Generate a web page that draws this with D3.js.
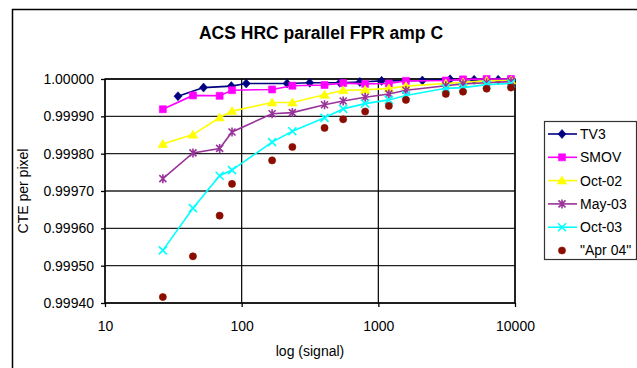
<!DOCTYPE html>
<html>
<head>
<meta charset="utf-8">
<script src="https://cdn.jsdelivr.net/npm/d3@7"></script>
<style>
  body { margin: 0; background: #fff; }
  svg { display: block; font-family: "Liberation Sans", Arial, sans-serif; }
</style>
</head>
<body>
<svg id="chart"></svg>
<script>
// data
const signal = [26.5, 44, 69, 85, 167, 235, 404, 553, 801, 1194, 1592, 3117, 4165, 6199, 9350];
const tv3Signal = [34.2, 52.6, 84, 108, 215, 315, 523, 733, 1057, 2100, 3350, 5020, 7530, 9220];
const tv3 = [0.999954, 0.999977, 0.999981, 0.999988, 0.999988, 0.99999, 0.99999, 0.999992, 0.999995, 0.999996, 0.999999, 0.999998, 0.999998, 0.999998];
const smov = [0.999919, 0.999956, 0.999955, 0.99997, 0.999972, 0.999982, 0.999984, 0.999989, 0.999987, 0.999988, 0.999995, 0.999996, 0.999999, 1.0, 1.0];
const oct02 = [0.999826, 0.999851, 0.999897, 0.999914, 0.999937, 0.999937, 0.999958, 0.99997, 0.999971, 0.999975, 0.999981, 0.999988, 0.999991, 0.999995, 0.999996];
const may03 = [0.999733, 0.999802, 0.999814, 0.999858, 0.999907, 0.99991, 0.999931, 0.999941, 0.999951, 0.99996, 0.99997, 0.999982, 0.999987, 0.99999, 0.999993];
const oct03 = [0.999541, 0.999654, 0.999741, 0.999756, 0.999831, 0.99986, 0.999896, 0.99992, 0.999934, 0.999944, 0.999956, 0.999975, 0.999977, 0.999985, 0.999988];
const apr04 = [0.999416, 0.999525, 0.999634, 0.999719, 0.999782, 0.999818, 0.999869, 0.999892, 0.999913, 0.999928, 0.999944, 0.99996, 0.999966, 0.999974, 0.999977];

const seriesNames = ["TV3", "SMOV", "Oct-02", "May-03", "Oct-03", "\"Apr 04\""];
const xTicks = [10, 100, 1000, 10000];
const yTicks = [0.9994, 0.9995, 0.9996, 0.9997, 0.9998, 0.9999, 1.0];

const series = [
    { name: seriesNames[0], xs: tv3Signal, ys: tv3, color: "#000080", marker: "diamond", line: true },
    { name: seriesNames[1], xs: signal, ys: smov, color: "#ff00ff", marker: "square", line: true },
    { name: seriesNames[2], xs: signal, ys: oct02, color: "#ffff00", marker: "triangle", line: true },
    { name: seriesNames[3], xs: signal, ys: may03, color: "#993399", marker: "star", line: true },
    { name: seriesNames[4], xs: signal, ys: oct03, color: "#00ffff", marker: "x", line: true },
    { name: seriesNames[5], xs: signal, ys: apr04, color: "#8b0d00", marker: "circle", line: false }
];

const W = 637, H = 368;
const margin = { top: 79, right: 122, bottom: 65, left: 105 };
const width = W - margin.left - margin.right;
const height = H - margin.top - margin.bottom;

const root = d3.select("#chart")
    .attr("width", W)
    .attr("height", H);

// outer chart frame (runs off the picture on the right and bottom)
root.append("rect")
    .attr("x", 12.5)
    .attr("y", 9.5)
    .attr("width", W + 20)
    .attr("height", H + 20)
    .attr("fill", "none")
    .attr("stroke", "#000")
    .attr("stroke-width", 1.5);

root.append("text")
    .attr("x", 321)
    .attr("y", 39)
    .attr("text-anchor", "middle")
    .style("font-size", "17.5px")
    .style("font-weight", "bold")
    .text("ACS HRC parallel FPR amp C");

const svg = root.append("g")
    .attr("transform", `translate(${margin.left},${margin.top})`);

const x = d3.scaleLog()
    .domain([10, 10000])
    .range([0, width]);
const y = d3.scaleLinear()
    .domain([0.9994, 1.0])
    .range([height, 0]);

// gridlines
svg.append("g")
    .selectAll("line")
    .data(yTicks)
    .enter()
    .append("line")
    .attr("x1", 0)
    .attr("x2", width)
    .attr("y1", d => y(d))
    .attr("y2", d => y(d))
    .attr("stroke", "#222")
    .attr("stroke-width", 1.3);

svg.append("g")
    .selectAll("line")
    .data(xTicks)
    .enter()
    .append("line")
    .attr("x1", d => x(d))
    .attr("x2", d => x(d))
    .attr("y1", 0)
    .attr("y2", height)
    .attr("stroke", "#000")
    .attr("stroke-width", 1.2);

const xAxis = d3.axisBottom(x)
    .tickValues(xTicks)
    .tickFormat(d3.format("d"))
    .tickSize(4)
    .tickPadding(14);

const yAxis = d3.axisLeft(y)
    .tickValues(yTicks)
    .tickFormat(d3.format(".5f"))
    .tickSize(4)
    .tickPadding(7);

svg.append("g")
    .attr("class", "x-axis")
    .attr("transform", `translate(0,${height})`)
    .call(xAxis);

svg.append("g")
    .attr("class", "y-axis")
    .call(yAxis);

svg.selectAll(".x-axis, .y-axis")
    .selectAll("path, line")
    .attr("stroke", "#000")
    .attr("stroke-width", 1.3);
svg.selectAll(".x-axis text, .y-axis text")
    .attr("fill", "#000")
    .style("font-size", "14px")
    .style("font-family", "\"Liberation Sans\", Arial, sans-serif");
svg.select(".y-axis .domain").remove();
svg.select(".x-axis .domain").remove();

// plot frame
svg.append("rect")
    .attr("width", width)
    .attr("height", height)
    .attr("fill", "none")
    .attr("stroke", "#000")
    .attr("stroke-width", 1.3);

// axis titles
svg.append("text")
    .attr("x", width / 2)
    .attr("y", height + 53)
    .attr("text-anchor", "middle")
    .style("font-size", "14px")
    .text("log (signal)");

svg.append("text")
    .attr("transform", `translate(${28 - margin.left},${height / 2}) rotate(-90)`)
    .attr("text-anchor", "middle")
    .style("font-size", "14px")
    .text("CTE per pixel");

// marker shapes
function markerPath(type) {
    if (type === "diamond") return "M0,-4.5L4,0L0,4.5L-4,0Z";
    if (type === "square") return "M-3.5,-3.5H3.5V3.5H-3.5Z";
    if (type === "triangle") return "M0,-4.5L4.8,3.5H-4.8Z";
    if (type === "x") return "M-4,-4L4,4M-4,4L4,-4";
    if (type === "star") return "M-3.5,-3.5L3.5,3.5M-3.5,3.5L3.5,-3.5M0,-4.5V4.5";
    return d3.symbol(d3.symbolCircle, 40)();
}

function drawMarker(sel, s) {
    const open = s.marker === "x" || s.marker === "star";
    sel.append("path")
        .attr("d", markerPath(s.marker))
        .attr("fill", open ? "none" : s.color)
        .attr("stroke", s.color)
        .attr("stroke-width", open ? 1.6 : 0.6);
}

const line = d3.line()
    .x(d => x(d[0]))
    .y(d => y(d[1]));

series.forEach(s => {
    const pts = s.xs.map((v, i) => [v, s.ys[i]]);
    const g = svg.append("g").attr("class", "series");
    if (s.line) {
        g.append("path")
            .datum(pts)
            .attr("d", line)
            .attr("fill", "none")
            .attr("stroke", s.color)
            .attr("stroke-width", 1.6);
    }
    g.selectAll(".pt")
        .data(pts)
        .enter()
        .append("g")
        .attr("class", "pt")
        .attr("transform", d => `translate(${x(d[0])},${y(d[1])})`)
        .each(function () { drawMarker(d3.select(this), s); });
});

// legend
const legend = root.append("g")
    .attr("transform", "translate(544,121)");

legend.append("rect")
    .attr("x", 0.5)
    .attr("y", 0.5)
    .attr("width", 92)
    .attr("height", 138)
    .attr("fill", "#fff")
    .attr("stroke", "#333")
    .attr("stroke-width", 1.2);

const items = legend.selectAll(".item")
    .data(series)
    .enter()
    .append("g")
    .attr("class", "item")
    .attr("transform", (d, i) => `translate(0,${13 + i * 23.3})`);

items.filter(d => d.line)
    .append("line")
    .attr("x1", 4)
    .attr("x2", 33)
    .attr("stroke", d => d.color)
    .attr("stroke-width", 1.6);

items.append("g")
    .attr("transform", "translate(18,0)")
    .each(function (d) { drawMarker(d3.select(this), d); });

items.append("text")
    .attr("x", 36)
    .attr("dy", "0.35em")
    .style("font-size", "14px")
    .text(d => d.name);
</script>
</body>
</html>
